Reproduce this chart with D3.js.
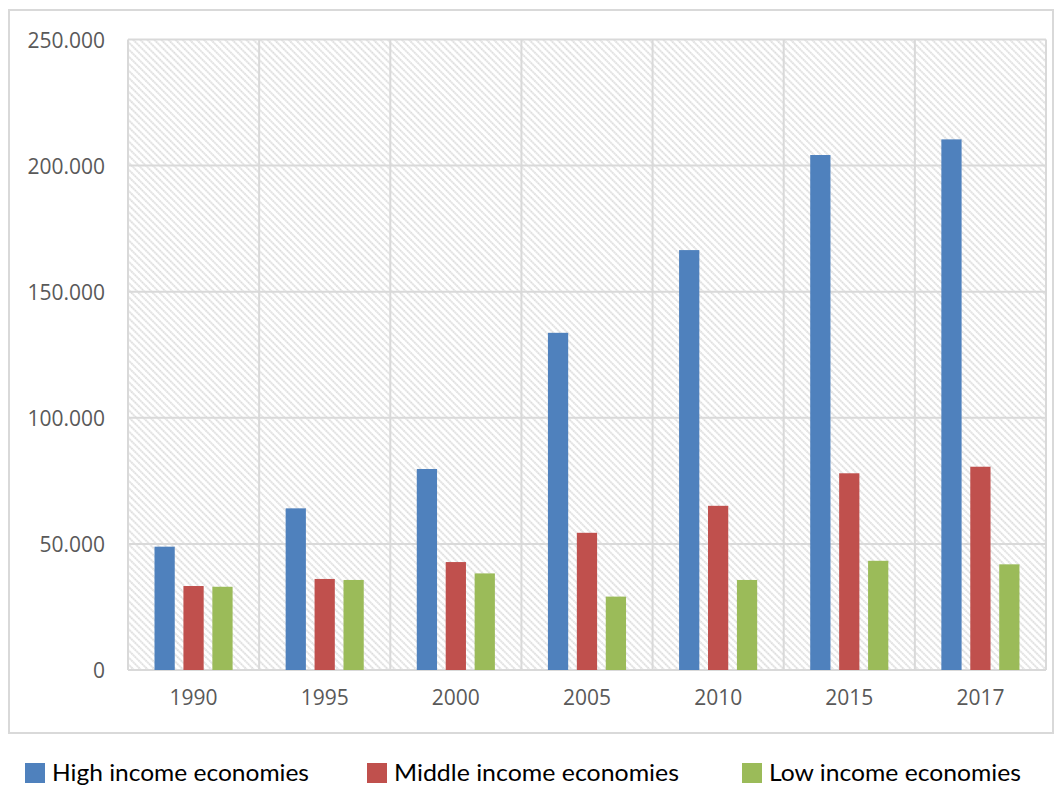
<!DOCTYPE html>
<html><head><meta charset="utf-8">
<script src="https://cdn.jsdelivr.net/npm/d3@7"></script>
<style>body{margin:0;background:#fff}svg{display:block}</style>
</head><body>
<svg id="c" width="1063" height="787"></svg>
<script>
const categories = ["1990","1995","2000","2005","2010","2015","2017"];
const seriesNames = ["High income economies","Middle income economies","Low income economies"];
const highIncome   = [48900, 64100, 79700, 133700, 166500, 204200, 210400];
const middleIncome = [33300, 36100, 42800, 54400, 65100, 78000, 80600];
const lowIncome    = [33000, 35700, 38300, 29100, 35700, 43300, 41900];
const yTicks = [0, 50000, 100000, 150000, 200000, 250000];
const colors = ["#4f81bd","#c0504d","#9bbb59"];

const series = [highIncome, middleIncome, lowIncome];
const svg = d3.select("#c");
const W = 1063, H = 787;
const plot = {l:128, r:1046, t:39.5, b:670};

// outer border
svg.append("rect").attr("x",9).attr("y",10).attr("width",1044).attr("height",723)
  .attr("fill","#fff").attr("stroke","#d9d9d9").attr("stroke-width",2);

// hatch pattern
const defs = svg.append("defs");
const pat = defs.append("pattern").attr("id","hatch").attr("patternUnits","userSpaceOnUse")
  .attr("width",5).attr("height",5).attr("patternTransform","rotate(-45)");
pat.append("rect").attr("width",5).attr("height",5).attr("fill","#fff");
pat.append("line").attr("x1",1).attr("y1",0).attr("x2",1).attr("y2",5)
  .attr("stroke","#d4d4d4").attr("stroke-width",1.6).attr("stroke-dasharray","1.6,0.6");

const x = d3.scaleBand().domain(categories).range([plot.l, plot.r]).paddingInner(0).paddingOuter(0);
const xs = d3.scaleBand().domain(d3.range(3)).range([26.5, 104.6]).paddingInner(0.3).paddingOuter(0);
const y = d3.scaleLinear().domain([0, 250000]).range([plot.b, plot.t]);

svg.append("rect").attr("x",plot.l).attr("y",plot.t).attr("width",plot.r-plot.l).attr("height",plot.b-plot.t)
  .attr("fill","url(#hatch)");

// gridlines
const g = svg.append("g");
g.selectAll("line.h").data(yTicks).join("line")
  .attr("x1",plot.l).attr("x2",plot.r).attr("y1",d=>y(d)).attr("y2",d=>y(d))
  .attr("stroke","#d9d9d9").attr("stroke-width",2);
const vx = categories.map(c=>x(c)).concat([plot.r]);
g.selectAll("line.v").data(vx).join("line")
  .attr("x1",d=>d).attr("x2",d=>d).attr("y1",plot.t).attr("y2",plot.b)
  .attr("stroke","#d9d9d9").attr("stroke-width",2);

// bars
series.forEach((vals, si) => {
  svg.append("g").selectAll("rect").data(vals).join("rect")
    .attr("x",(d,i)=>x(categories[i]) + xs(si))
    .attr("width", xs.bandwidth())
    .attr("y", d=>y(d))
    .attr("height", d=>y(0)-y(d))
    .attr("fill", colors[si]);
});

// y axis labels
const yAxis = d3.axisLeft(y).tickValues(yTicks).tickSize(0).tickPadding(0)
  .tickFormat(d => d===0 ? "0" : d3.format(",")(d).replace(/,/g,"."));
const ya = svg.append("g").attr("transform",`translate(105,0)`).call(yAxis);
ya.select(".domain").remove();
ya.selectAll("text").attr("font-family","'Open Sans', sans-serif").attr("font-size",21)
  .attr("fill","#595959").attr("dy","0.36em");

// x axis labels
const xAxis = d3.axisBottom(x).tickSize(0).tickPadding(0);
const xa = svg.append("g").attr("transform",`translate(0,690)`).call(xAxis);
xa.select(".domain").remove();
xa.selectAll("text").attr("font-family","'Open Sans', sans-serif").attr("font-size",21)
  .attr("fill","#595959").attr("dy","0.71em");

// legend
const legX = [25, 367, 742];
const legW = [257, 285, 252];
const leg = svg.append("g");
seriesNames.forEach((n,i)=>{
  leg.append("rect").attr("x",legX[i]).attr("y",763).attr("width",20).attr("height",20).attr("fill",colors[i]);
  leg.append("text").attr("x",legX[i]+27).attr("y",781).text(n)
    .attr("font-family","'Liberation Sans Narrow', Lato, sans-serif").attr("font-size",23)
    .attr("fill","#000").attr("textLength",legW[i]).attr("lengthAdjust","spacingAndGlyphs");
});
</script>
</body></html>
